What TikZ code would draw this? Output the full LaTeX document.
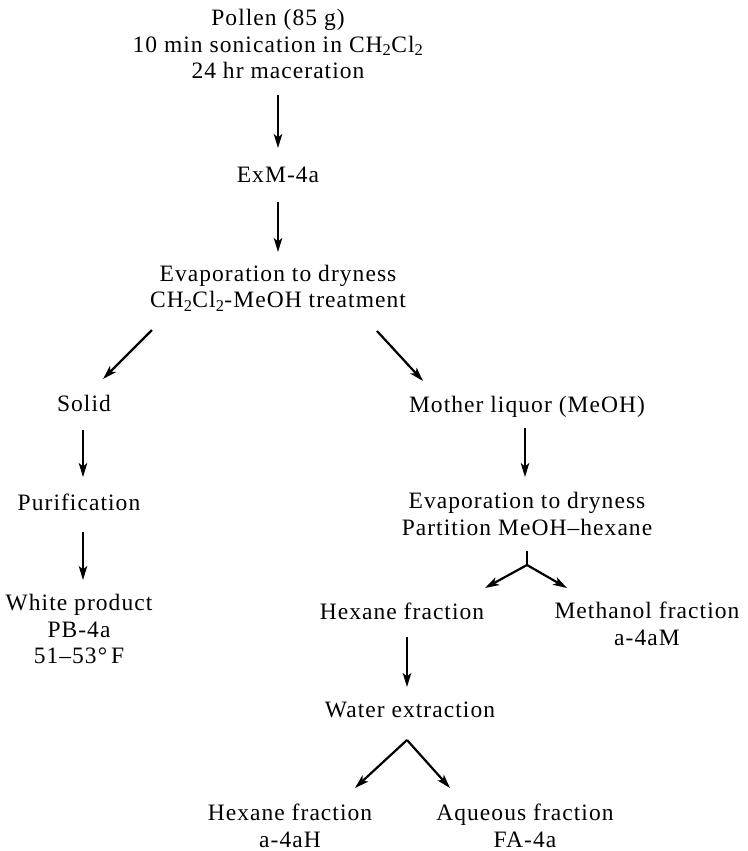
\documentclass[tikz,border=0pt]{standalone}
\usepackage{fontspec}
\setmainfont{Liberation Serif}[LetterSpace=4.5]
\usetikzlibrary{arrows.meta,calc}
\begin{document}
\begin{tikzpicture}[x=1pt,y=-1pt,
  lbl/.style={align=center,inner sep=0pt,font=\fontsize{23.5}{26.5}\selectfont},
  arr/.style={line width=2.2pt,-{Stealth[length=14pt,width=8.5pt,inset=3.5pt]}},
  stem/.style={line width=1.4pt}]
\useasboundingbox (0,0) rectangle (747,851);
% main column
\node[lbl] (pollen) at (278,44) {Pollen (85 g)\\10 min sonication in CH\textsubscript{2}Cl\textsubscript{2}\\24 hr maceration};
\node[lbl] (exm) at (278,175) {ExM-4a};
\node[lbl] (evap) at (278,288) {Evaporation to dryness\\CH\textsubscript{2}Cl\textsubscript{2}-MeOH treatment};
% solid branch
\node[lbl] (solid) at (84,403) {Solid};
\node[lbl] (purif) at (79,502) {Purification};
\node[lbl] (white) at (79,629) {White product\\PB-4a\\51--53\textdegree\,F};
% mother liquor branch
\node[lbl] (mother) at (527,407) {Mother liquor (MeOH)};
\node[lbl] (evap2) at (527,514) {Evaporation to dryness\\Partition MeOH--hexane};
\node[lbl] (hex1) at (402,611) {Hexane fraction};
\node[lbl] (meth) at (647,624) {Methanol fraction\\a-4aM};
\node[lbl] (water) at (410,710) {Water extraction};
\node[lbl] (hex2) at (290,826) {Hexane fraction\\a-4aH};
\node[lbl] (aq) at (525,826) {Aqueous fraction\\FA-4a};
% connectors
\draw[arr] ($(pollen)+(0,51)$) -- ($(exm)+(0,-27)$);
\draw[arr] ($(exm)+(0,27)$) -- ($(evap)+(0,-36)$);
\draw[arr] ($(evap)+(-126,42)$) -- ($(solid)+(19,-24)$);
\draw[arr] ($(evap)+(99,43)$) -- ($(mother)+(-104,-26)$);
\draw[arr] ($(solid)+(-1,27)$) -- ($(purif)+(4,-25)$);
\draw[arr] ($(purif)+(4,30)$) -- ($(white)+(4,-49)$);
\draw[arr] ($(mother)+(-2,21)$) -- ($(evap2)+(-2,-37)$);
\coordinate (fork1) at ($(evap2)+(0,51)$);
\draw[stem] ($(evap2)+(0,37)$) -- (fork1);
\draw[arr] (fork1) -- ($(hex1)+(83,-23)$);
\draw[arr] (fork1) -- ($(meth)+(-80,-36)$);
\draw[arr] ($(hex1)+(5,26)$) -- ($(water)+(-3,-23)$);
\coordinate (fork2) at ($(water)+(-3,30)$);
\draw[arr] (fork2) -- ($(hex2)+(65,-38)$);
\draw[arr] (fork2) -- ($(aq)+(-75,-38)$);
\end{tikzpicture}
\end{document}
